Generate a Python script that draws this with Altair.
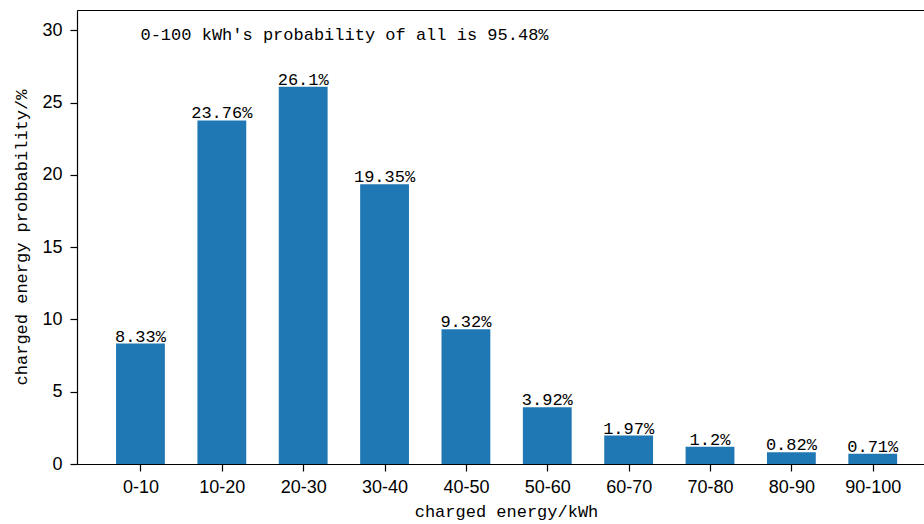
import json
import altair as alt
import pandas as pd

categories = ["0-10", "10-20", "20-30", "30-40", "40-50", "50-60", "60-70", "70-80", "80-90", "90-100"]
values = [8.33, 23.76, 26.1, 19.35, 9.32, 3.92, 1.97, 1.2, 0.82, 0.71]
labels = ["8.33%", "23.76%", "26.1%", "19.35%", "9.32%", "3.92%", "1.97%", "1.2%", "0.82%", "0.71%"]
y_ticks = [0, 5, 10, 15, 20, 25, 30]
note = "0-100 kWh's probability of all is 95.48%"

df = pd.DataFrame({"i": list(range(len(categories))), "cat": categories, "v": values, "lab": labels})

MONO = "Liberation Mono"
SANS = "Liberation Sans"
W, H = 847, 454
XMIN, XMAX = -0.78, 9.63
YMAX = 31.4

xscale = alt.Scale(domain=[XMIN, XMAX], nice=False, zero=False)
yscale = alt.Scale(domain=[0, YMAX], nice=False)

label_expr = json.dumps(categories) + "[datum.value]"

y_axis = alt.Axis(values=y_ticks, title="charged energy probbability/%", grid=False,
                  domainColor="#000000", domainWidth=1.2,
                  tickColor="#000000", tickSize=7, tickWidth=1.2,
                  labelFont=SANS, labelFontSize=18, labelColor="#000000",
                  labelPadding=8,
                  titleFont=MONO, titleFontSize=17, titleFontWeight="normal",
                  titleColor="#000000", titlePadding=11)

base = alt.Chart(df)

bars = base.transform_calculate(
    x0="datum.i - 0.3", x1="datum.i + 0.3"
).mark_bar(color="#1f77b4").encode(
    x=alt.X("x0:Q", scale=xscale,
            axis=alt.Axis(values=list(range(len(categories))), labelExpr=label_expr,
                          title="charged energy/kWh", grid=False,
                          domainColor="#000000", domainWidth=1.2,
                          tickColor="#000000", tickSize=7, tickWidth=1.2,
                          labelFont=SANS, labelFontSize=18, labelColor="#000000",
                          labelPadding=7,
                          titleFont=MONO, titleFontSize=17, titleFontWeight="normal",
                          titleColor="#000000", titleX=429, titlePadding=7)),
    x2="x1:Q",
    y=alt.Y("v:Q", scale=yscale, axis=y_axis),
    y2=alt.datum(0),
)

texts = base.mark_text(font=MONO, fontSize=17, color="#000000", baseline="alphabetic", dy=-2).encode(
    x=alt.X("i:Q", scale=xscale, axis=None),
    y=alt.Y("v:Q", scale=yscale, axis=y_axis),
    text="lab:N",
)

note_df = pd.DataFrame({"x": [0], "y": [29.3], "t": [note]})
note_layer = alt.Chart(note_df).mark_text(font=MONO, fontSize=17, color="#000000",
                                          align="left", baseline="alphabetic").encode(
    x=alt.X("x:Q", scale=xscale,
            axis=alt.Axis(orient="top", labels=False, ticks=False, grid=False, title=None,
                          domainColor="#000000", domainWidth=1.2)),
    y=alt.Y("y:Q", scale=yscale, axis=y_axis),
    text="t:N",
)

chart = alt.layer(bars, texts, note_layer).resolve_axis(x="independent").properties(
    width=W, height=H,
    autosize=alt.AutoSizeParams(type="none"),
    padding={"left": 77, "top": 10, "right": 0, "bottom": 60},
).configure_view(stroke=None).configure(background="white")

chart.save("out.html", embed_options={"renderer": "svg", "actions": False})
